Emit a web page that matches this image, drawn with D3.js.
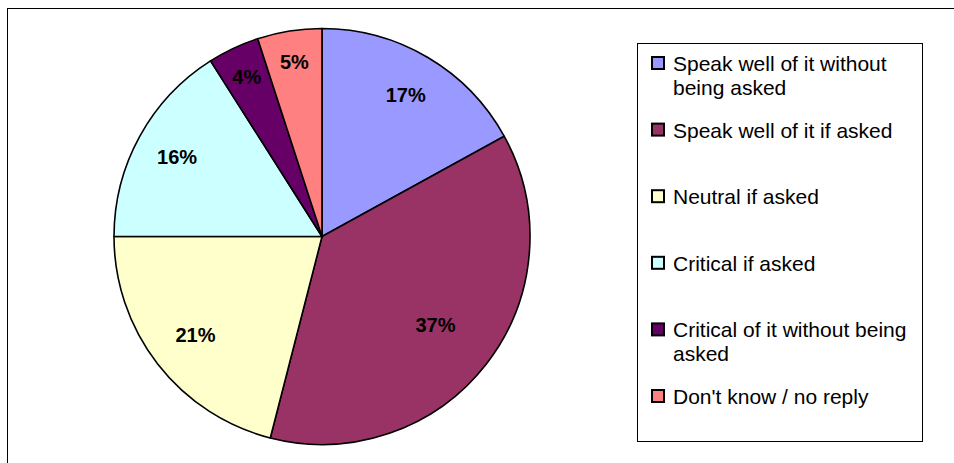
<!DOCTYPE html>
<html>
<head>
<meta charset="utf-8">
<script src="https://cdn.jsdelivr.net/npm/d3@7/dist/d3.min.js"></script>
<style>
  html, body { margin: 0; padding: 0; background: #fff; }
  svg { display: block; font-family: "Liberation Sans", Arial, sans-serif; }
</style>
</head>
<body>
<svg id="chart" width="954" height="463"></svg>
<script>
// Survey answers, in drawing order (clockwise from 12 o'clock)
const categories = [
  "Speak well of it without being asked",
  "Speak well of it if asked",
  "Neutral if asked",
  "Critical if asked",
  "Critical of it without being asked",
  "Don't know / no reply"
];
const shares = [17, 37, 21, 16, 4, 5];
const colors = ["#9999FF", "#993366", "#FFFFCC", "#CCFFFF", "#660066", "#FF8080"];

const W = 954, H = 463;
const svg = d3.select("#chart");

// Chart area frame (open to the right and bottom)
svg.append("rect")
  .attr("x", 7.5).attr("y", 8.5)
  .attr("width", 1200).attr("height", 1200)
  .attr("fill", "none").attr("stroke", "#000").attr("stroke-width", 1);

const cx = 322, cy = 236.5, R = 208;
const data = categories.map((c, i) => ({ name: c, value: shares[i], color: colors[i] }));
const total = d3.sum(shares);

const pie = d3.pie().value(d => d.value).sort(null);
const arc = d3.arc().innerRadius(0).outerRadius(R);
const arcs = pie(data);

const g = svg.append("g").attr("transform", `translate(${cx},${cy})`);

g.selectAll("path.slice")
  .data(arcs)
  .join("path")
  .attr("class", "slice")
  .attr("d", arc)
  .attr("fill", d => d.data.color)
  .attr("stroke", "#000")
  .attr("stroke-width", 1.6)
  .attr("stroke-linejoin", "round");

// Percentage labels: narrow slices push their label further out
g.selectAll("text.pct")
  .data(arcs)
  .join("text")
  .attr("class", "pct")
  .attr("transform", d => {
    const frac = d.data.value / total;
    const ratio = 0.85 - 0.5 * Math.max(0, frac - 0.05);
    const a = (d.startAngle + d.endAngle) / 2;
    const r = R * ratio;
    return `translate(${r * Math.sin(a)},${-r * Math.cos(a)})`;
  })
  .attr("text-anchor", "middle")
  .attr("dy", "0.36em")
  .attr("font-size", 20)
  .attr("font-weight", "bold")
  .attr("fill", "#000")
  .text(d => d.data.value + "%");

// Legend
const lg = { x: 637.5, y: 43.5, w: 285, h: 398 };
svg.append("rect")
  .attr("x", lg.x).attr("y", lg.y)
  .attr("width", lg.w).attr("height", lg.h)
  .attr("fill", "#fff").attr("stroke", "#000").attr("stroke-width", 1);

const fontSize = 21, lineH = 24, rowStep = 66.6;
const textX = 673, maxW = 242;
const firstBaseline = 71;

const items = svg.append("g").selectAll("g.item")
  .data(data)
  .join("g")
  .attr("class", "item")
  .attr("transform", (d, i) => `translate(0,${firstBaseline + i * rowStep})`);

items.append("rect")
  .attr("x", 652).attr("y", -14)
  .attr("width", 12).attr("height", 12)
  .attr("fill", d => d.color)
  .attr("stroke", "#000").attr("stroke-width", 2);

items.append("text")
  .attr("x", textX)
  .attr("font-size", fontSize)
  .attr("fill", "#000")
  .each(function (d) {
    const t = d3.select(this);
    const words = d.name.split(" ");
    let line = [];
    let tspan = t.append("tspan").attr("x", textX).attr("dy", 0);
    for (const w of words) {
      line.push(w);
      tspan.text(line.join(" "));
      if (tspan.node().getComputedTextLength() > maxW && line.length > 1) {
        line.pop();
        tspan.text(line.join(" "));
        line = [w];
        tspan = t.append("tspan").attr("x", textX).attr("dy", lineH).text(w);
      }
    }
  });
</script>
</body>
</html>
